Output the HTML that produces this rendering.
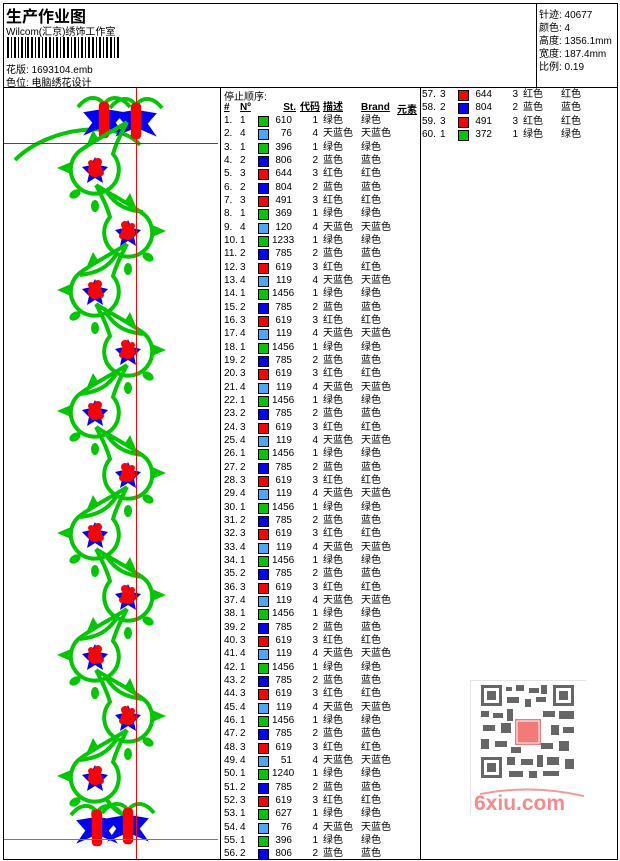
<!DOCTYPE html>
<html><head><meta charset="utf-8"><style>
*{margin:0;padding:0}
body{width:620px;height:861px;background:#fff;position:relative;overflow:hidden;font-family:"Liberation Sans","Noto Sans CJK SC","WenQuanYi Zen Hei",sans-serif;font-size:10px;color:#000}
.a{position:absolute;white-space:nowrap}
.ln{position:absolute;background:#000}
.r{position:absolute;height:13px;line-height:13px;width:200px}
.r span{position:absolute;top:0;white-space:nowrap}
.r span:nth-child(1){left:4px}
.r span:nth-child(2){left:20px}
.r span:nth-child(3){left:38px;top:2px;width:9px;height:9px;border:1px solid #000}
.r span:nth-child(4){left:52px;width:20px;text-align:right}
.r span:nth-child(5){left:80px;width:18px;text-align:right}
.r span:nth-child(6){left:103px}
.r span:nth-child(7){left:141px}
.g{background:#00c800}.c{background:#48a8ff}.b{background:#0000ff}.d{background:#ff0000}
.hd{font-weight:bold;text-decoration:underline}
</style></head><body>
<div class="ln" style="left:3px;top:3px;width:615px;height:1px"></div>
<div class="ln" style="left:3px;top:3px;width:1px;height:857px"></div>
<div class="ln" style="left:617px;top:3px;width:1px;height:857px"></div>
<div class="ln" style="left:3px;top:859px;width:615px;height:1px"></div>
<div class="ln" style="left:3px;top:87px;width:615px;height:1px"></div>
<div class="ln" style="left:536px;top:3px;width:1px;height:85px"></div>
<div class="ln" style="left:220px;top:87px;width:1px;height:773px"></div>
<div class="ln" style="left:420px;top:87px;width:1px;height:773px"></div>

<div class="a" style="left:6px;top:3px;font-size:16px;font-weight:bold">生产作业图</div>
<div class="a" style="left:6px;top:23px">Wilcom(汇京)绣饰工作室</div>
<svg class="a" style="left:7px;top:37px" width="112" height="21">
<g fill="#000">
<rect x="0" width="2" height="21"/><rect x="4" width="1" height="21"/><rect x="7" width="2" height="21"/><rect x="11" width="1" height="21"/><rect x="14" width="2" height="21"/><rect x="18" width="1" height="21"/><rect x="20" width="2" height="21"/><rect x="24" width="2" height="21"/><rect x="28" width="1" height="21"/><rect x="31" width="2" height="21"/><rect x="35" width="1" height="21"/><rect x="38" width="2" height="21"/><rect x="42" width="2" height="21"/><rect x="46" width="1" height="21"/><rect x="49" width="2" height="21"/><rect x="53" width="1" height="21"/><rect x="56" width="2" height="21"/><rect x="60" width="2" height="21"/><rect x="64" width="1" height="21"/><rect x="67" width="2" height="21"/><rect x="71" width="1" height="21"/><rect x="74" width="2" height="21"/><rect x="78" width="1" height="21"/><rect x="81" width="2" height="21"/><rect x="85" width="2" height="21"/><rect x="89" width="1" height="21"/><rect x="92" width="2" height="21"/><rect x="96" width="1" height="21"/><rect x="99" width="2" height="21"/><rect x="103" width="2" height="21"/><rect x="107" width="1" height="21"/><rect x="110" width="2" height="21"/>
</g></svg>
<div class="a" style="left:6px;top:61px">花版: 1693104.emb</div>
<div class="a" style="left:6px;top:74px">色位: 电脑绣花设计</div>

<div class="a" style="left:539px;top:6px">针迹: 40677</div>
<div class="a" style="left:539px;top:19px">颜色: 4</div>
<div class="a" style="left:539px;top:32px">高度: 1356.1mm</div>
<div class="a" style="left:539px;top:45px">宽度: 187.4mm</div>
<div class="a" style="left:539px;top:58px">比例: 0.19</div>

<svg class="a" style="left:4px;top:88px" width="216" height="771" viewBox="4 88 216 771">
<defs>
<g id="fl">
<polygon points="0,-13 4,-5 13,-3 6,4 8,13 0,8 -8,13 -6,4 -13,-3 -4,-5" fill="#0000ff"/>
<circle r="7" fill="#ff0000"/><circle cx="3" cy="-8" r="4" fill="#ff0000"/><circle cx="-4" cy="-7" r="3" fill="#ff0000"/><circle cx="6" cy="3" r="3" fill="#ff0000"/>
</g>
<g id="lp">
<path d="M32,-48 C20,-40 0,-30 -14,-20 A24,24 0 1 0 18,-16 C22,-30 28,-40 32,-48" fill="none" stroke="#00c800" stroke-width="4"/>
<path d="M12,22 C20,34 30,40 48,42" fill="none" stroke="#00c800" stroke-width="4"/>
<polygon points="-24,-8 -38,-2 -24,4" fill="#00c800"/>
<polygon points="-2,-40 -8,-26 4,-30" fill="#00c800"/>
<ellipse cx="-20" cy="24" rx="6" ry="4" fill="#00c800" transform="rotate(-30 -20 24)"/>
<ellipse cx="0" cy="36" rx="4" ry="6" fill="#00c800"/>
<use href="#fl"/>
</g>
<g id="orn">
<path d="M-20,-10 C-12,-20 -4,-18 0,-12" fill="none" stroke="#00c800" stroke-width="3"/>
<path d="M20,-10 C12,-20 4,-18 0,-12" fill="none" stroke="#00c800" stroke-width="3"/>
<polygon points="-16,-6 -4,-8 -2,6 -16,12 -9,2" fill="#0000ff"/>
<polygon points="16,-6 4,-8 2,6 16,12 9,2" fill="#0000ff"/>
<rect x="-4" y="-14" width="8" height="28" rx="3" fill="#ff0000"/>
</g>
</defs>
<path d="M15,160 C50,125 120,120 140,145" fill="none" stroke="#00c800" stroke-width="4"/>
<use href="#orn" transform="translate(104,120) scale(1.3)"/><use href="#orn" transform="translate(136,121) scale(1.3)"/>
<use href="#lp" transform="translate(95,170)"/>
<use href="#lp" transform="translate(128,233) scale(-1,1)"/>
<use href="#lp" transform="translate(95,292)"/>
<use href="#lp" transform="translate(128,352) scale(-1,1)"/>
<use href="#lp" transform="translate(95,413)"/>
<use href="#lp" transform="translate(128,475) scale(-1,1)"/>
<use href="#lp" transform="translate(95,535)"/>
<use href="#lp" transform="translate(128,597) scale(-1,1)"/>
<use href="#lp" transform="translate(95,657)"/>
<use href="#lp" transform="translate(128,718) scale(-1,1)"/>
<use href="#lp" transform="translate(95,778)"/>
<use href="#orn" transform="translate(97,828) scale(1.3)"/><use href="#orn" transform="translate(128,826) scale(1.3)"/>
<rect x="4" y="839" width="214" height="1" fill="#00d000"/>
<rect x="136" y="88" width="1" height="771" fill="#ff0000"/>
<rect x="4" y="143" width="214" height="1" fill="#ff0000"/>
</svg>

<div class="a" style="left:224px;top:88px">停止顺序:</div>
<div class="r" style="left:220px;top:101px"><span class="hd">#</span><span class="hd">Nº</span><span style="display:none"></span><span class="hd" style="left:56px">St.</span><span class="hd">代码</span><span class="hd">描述</span><span class="hd">Brand</span></div>
<div class="a hd" style="left:397px;top:101px">元素</div>

<div style="position:absolute;left:220px;top:114px">
<div class="r" style="top:0px"><span>1.</span><span>1</span><span class="g"></span><span>610</span><span>1</span><span>绿色</span><span>绿色</span></div>
<div class="r" style="top:13.3px"><span>2.</span><span>4</span><span class="c"></span><span>76</span><span>4</span><span>天蓝色</span><span>天蓝色</span></div>
<div class="r" style="top:26.7px"><span>3.</span><span>1</span><span class="g"></span><span>396</span><span>1</span><span>绿色</span><span>绿色</span></div>
<div class="r" style="top:40px"><span>4.</span><span>2</span><span class="b"></span><span>806</span><span>2</span><span>蓝色</span><span>蓝色</span></div>
<div class="r" style="top:53.3px"><span>5.</span><span>3</span><span class="d"></span><span>644</span><span>3</span><span>红色</span><span>红色</span></div>
<div class="r" style="top:66.7px"><span>6.</span><span>2</span><span class="b"></span><span>804</span><span>2</span><span>蓝色</span><span>蓝色</span></div>
<div class="r" style="top:80px"><span>7.</span><span>3</span><span class="d"></span><span>491</span><span>3</span><span>红色</span><span>红色</span></div>
<div class="r" style="top:93.3px"><span>8.</span><span>1</span><span class="g"></span><span>369</span><span>1</span><span>绿色</span><span>绿色</span></div>
<div class="r" style="top:106.7px"><span>9.</span><span>4</span><span class="c"></span><span>120</span><span>4</span><span>天蓝色</span><span>天蓝色</span></div>
<div class="r" style="top:120px"><span>10.</span><span>1</span><span class="g"></span><span>1233</span><span>1</span><span>绿色</span><span>绿色</span></div>
<div class="r" style="top:133.3px"><span>11.</span><span>2</span><span class="b"></span><span>785</span><span>2</span><span>蓝色</span><span>蓝色</span></div>
<div class="r" style="top:146.7px"><span>12.</span><span>3</span><span class="d"></span><span>619</span><span>3</span><span>红色</span><span>红色</span></div>
<div class="r" style="top:160px"><span>13.</span><span>4</span><span class="c"></span><span>119</span><span>4</span><span>天蓝色</span><span>天蓝色</span></div>
<div class="r" style="top:173.3px"><span>14.</span><span>1</span><span class="g"></span><span>1456</span><span>1</span><span>绿色</span><span>绿色</span></div>
<div class="r" style="top:186.7px"><span>15.</span><span>2</span><span class="b"></span><span>785</span><span>2</span><span>蓝色</span><span>蓝色</span></div>
<div class="r" style="top:200px"><span>16.</span><span>3</span><span class="d"></span><span>619</span><span>3</span><span>红色</span><span>红色</span></div>
<div class="r" style="top:213.3px"><span>17.</span><span>4</span><span class="c"></span><span>119</span><span>4</span><span>天蓝色</span><span>天蓝色</span></div>
<div class="r" style="top:226.7px"><span>18.</span><span>1</span><span class="g"></span><span>1456</span><span>1</span><span>绿色</span><span>绿色</span></div>
<div class="r" style="top:240px"><span>19.</span><span>2</span><span class="b"></span><span>785</span><span>2</span><span>蓝色</span><span>蓝色</span></div>
<div class="r" style="top:253.3px"><span>20.</span><span>3</span><span class="d"></span><span>619</span><span>3</span><span>红色</span><span>红色</span></div>
<div class="r" style="top:266.7px"><span>21.</span><span>4</span><span class="c"></span><span>119</span><span>4</span><span>天蓝色</span><span>天蓝色</span></div>
<div class="r" style="top:280px"><span>22.</span><span>1</span><span class="g"></span><span>1456</span><span>1</span><span>绿色</span><span>绿色</span></div>
<div class="r" style="top:293.3px"><span>23.</span><span>2</span><span class="b"></span><span>785</span><span>2</span><span>蓝色</span><span>蓝色</span></div>
<div class="r" style="top:306.7px"><span>24.</span><span>3</span><span class="d"></span><span>619</span><span>3</span><span>红色</span><span>红色</span></div>
<div class="r" style="top:320px"><span>25.</span><span>4</span><span class="c"></span><span>119</span><span>4</span><span>天蓝色</span><span>天蓝色</span></div>
<div class="r" style="top:333.3px"><span>26.</span><span>1</span><span class="g"></span><span>1456</span><span>1</span><span>绿色</span><span>绿色</span></div>
<div class="r" style="top:346.7px"><span>27.</span><span>2</span><span class="b"></span><span>785</span><span>2</span><span>蓝色</span><span>蓝色</span></div>
<div class="r" style="top:360px"><span>28.</span><span>3</span><span class="d"></span><span>619</span><span>3</span><span>红色</span><span>红色</span></div>
<div class="r" style="top:373.3px"><span>29.</span><span>4</span><span class="c"></span><span>119</span><span>4</span><span>天蓝色</span><span>天蓝色</span></div>
<div class="r" style="top:386.7px"><span>30.</span><span>1</span><span class="g"></span><span>1456</span><span>1</span><span>绿色</span><span>绿色</span></div>
<div class="r" style="top:400px"><span>31.</span><span>2</span><span class="b"></span><span>785</span><span>2</span><span>蓝色</span><span>蓝色</span></div>
<div class="r" style="top:413.3px"><span>32.</span><span>3</span><span class="d"></span><span>619</span><span>3</span><span>红色</span><span>红色</span></div>
<div class="r" style="top:426.7px"><span>33.</span><span>4</span><span class="c"></span><span>119</span><span>4</span><span>天蓝色</span><span>天蓝色</span></div>
<div class="r" style="top:440px"><span>34.</span><span>1</span><span class="g"></span><span>1456</span><span>1</span><span>绿色</span><span>绿色</span></div>
<div class="r" style="top:453.3px"><span>35.</span><span>2</span><span class="b"></span><span>785</span><span>2</span><span>蓝色</span><span>蓝色</span></div>
<div class="r" style="top:466.7px"><span>36.</span><span>3</span><span class="d"></span><span>619</span><span>3</span><span>红色</span><span>红色</span></div>
<div class="r" style="top:480px"><span>37.</span><span>4</span><span class="c"></span><span>119</span><span>4</span><span>天蓝色</span><span>天蓝色</span></div>
<div class="r" style="top:493.3px"><span>38.</span><span>1</span><span class="g"></span><span>1456</span><span>1</span><span>绿色</span><span>绿色</span></div>
<div class="r" style="top:506.7px"><span>39.</span><span>2</span><span class="b"></span><span>785</span><span>2</span><span>蓝色</span><span>蓝色</span></div>
<div class="r" style="top:520px"><span>40.</span><span>3</span><span class="d"></span><span>619</span><span>3</span><span>红色</span><span>红色</span></div>
<div class="r" style="top:533.3px"><span>41.</span><span>4</span><span class="c"></span><span>119</span><span>4</span><span>天蓝色</span><span>天蓝色</span></div>
<div class="r" style="top:546.7px"><span>42.</span><span>1</span><span class="g"></span><span>1456</span><span>1</span><span>绿色</span><span>绿色</span></div>
<div class="r" style="top:560px"><span>43.</span><span>2</span><span class="b"></span><span>785</span><span>2</span><span>蓝色</span><span>蓝色</span></div>
<div class="r" style="top:573.3px"><span>44.</span><span>3</span><span class="d"></span><span>619</span><span>3</span><span>红色</span><span>红色</span></div>
<div class="r" style="top:586.7px"><span>45.</span><span>4</span><span class="c"></span><span>119</span><span>4</span><span>天蓝色</span><span>天蓝色</span></div>
<div class="r" style="top:600px"><span>46.</span><span>1</span><span class="g"></span><span>1456</span><span>1</span><span>绿色</span><span>绿色</span></div>
<div class="r" style="top:613.3px"><span>47.</span><span>2</span><span class="b"></span><span>785</span><span>2</span><span>蓝色</span><span>蓝色</span></div>
<div class="r" style="top:626.7px"><span>48.</span><span>3</span><span class="d"></span><span>619</span><span>3</span><span>红色</span><span>红色</span></div>
<div class="r" style="top:640px"><span>49.</span><span>4</span><span class="c"></span><span>51</span><span>4</span><span>天蓝色</span><span>天蓝色</span></div>
<div class="r" style="top:653.3px"><span>50.</span><span>1</span><span class="g"></span><span>1240</span><span>1</span><span>绿色</span><span>绿色</span></div>
<div class="r" style="top:666.7px"><span>51.</span><span>2</span><span class="b"></span><span>785</span><span>2</span><span>蓝色</span><span>蓝色</span></div>
<div class="r" style="top:680px"><span>52.</span><span>3</span><span class="d"></span><span>619</span><span>3</span><span>红色</span><span>红色</span></div>
<div class="r" style="top:693.3px"><span>53.</span><span>1</span><span class="g"></span><span>627</span><span>1</span><span>绿色</span><span>绿色</span></div>
<div class="r" style="top:706.7px"><span>54.</span><span>4</span><span class="c"></span><span>76</span><span>4</span><span>天蓝色</span><span>天蓝色</span></div>
<div class="r" style="top:720px"><span>55.</span><span>1</span><span class="g"></span><span>396</span><span>1</span><span>绿色</span><span>绿色</span></div>
<div class="r" style="top:733.3px"><span>56.</span><span>2</span><span class="b"></span><span>806</span><span>2</span><span>蓝色</span><span>蓝色</span></div>
</div>

<div style="position:absolute;left:420px;top:88px">
<div class="r" style="top:0px"><span style="left:2px">57.</span><span>3</span><span class="d"></span><span>644</span><span>3</span><span>红色</span><span>红色</span></div>
<div class="r" style="top:13.3px"><span style="left:2px">58.</span><span>2</span><span class="b"></span><span>804</span><span>2</span><span>蓝色</span><span>蓝色</span></div>
<div class="r" style="top:26.7px"><span style="left:2px">59.</span><span>3</span><span class="d"></span><span>491</span><span>3</span><span>红色</span><span>红色</span></div>
<div class="r" style="top:40px"><span style="left:2px">60.</span><span>1</span><span class="g"></span><span>372</span><span>1</span><span>绿色</span><span>绿色</span></div>
</div>

<div class="a" style="left:470px;top:680px;width:115px;height:133px;border-top:1px solid #e4e4e4;border-left:1px solid #e4e4e4"></div>
<svg class="a" style="left:481px;top:685px" width="93" height="93">
<rect width="93" height="93" fill="#fff"/>
<g fill="#666">
<rect x="0" y="0" width="21" height="21"/><rect x="72" y="0" width="21" height="21"/><rect x="0" y="72" width="21" height="21"/>
<rect x="25" y="2" width="6" height="4"/><rect x="35" y="0" width="8" height="6"/><rect x="48" y="3" width="10" height="5"/><rect x="60" y="0" width="6" height="9"/>
<rect x="26" y="12" width="12" height="6"/><rect x="44" y="14" width="6" height="8"/><rect x="55" y="12" width="10" height="5"/>
<rect x="0" y="26" width="8" height="6"/><rect x="12" y="28" width="10" height="5"/><rect x="26" y="24" width="6" height="12"/><rect x="62" y="26" width="12" height="6"/><rect x="78" y="26" width="15" height="8"/>
<rect x="2" y="40" width="12" height="6"/><rect x="20" y="38" width="10" height="10"/><rect x="70" y="40" width="8" height="10"/><rect x="82" y="42" width="11" height="6"/>
<rect x="0" y="54" width="8" height="10"/><rect x="14" y="56" width="12" height="6"/><rect x="30" y="62" width="10" height="6"/><rect x="60" y="58" width="12" height="6"/><rect x="78" y="56" width="10" height="10"/>
<rect x="26" y="72" width="8" height="8"/><rect x="40" y="74" width="12" height="6"/><rect x="56" y="70" width="6" height="12"/><rect x="66" y="72" width="12" height="8"/><rect x="84" y="74" width="9" height="10"/>
<rect x="28" y="86" width="14" height="6"/><rect x="48" y="86" width="8" height="7"/><rect x="62" y="86" width="16" height="5"/>
</g>
<g fill="#fff"><rect x="3" y="3" width="15" height="15"/><rect x="75" y="3" width="15" height="15"/><rect x="3" y="75" width="15" height="15"/></g>
<g fill="#666"><rect x="6" y="6" width="9" height="9"/><rect x="78" y="6" width="9" height="9"/><rect x="6" y="78" width="9" height="9"/></g>
<rect x="34" y="34" width="26" height="26" fill="#f47a7a"/>
<rect x="36" y="36" width="22" height="22" fill="none" stroke="#fff" stroke-width="1"/>
</svg>
<svg class="a" style="left:472px;top:788px" width="113" height="25">
<path d="M8,6 Q60,-4 112,8" fill="none" stroke="#f59a9a" stroke-width="2"/>
<text x="2" y="22" font-family="Liberation Sans, sans-serif" font-weight="bold" font-size="21" fill="#f58a8a">6xiu.com</text>
</svg>
</body></html>
